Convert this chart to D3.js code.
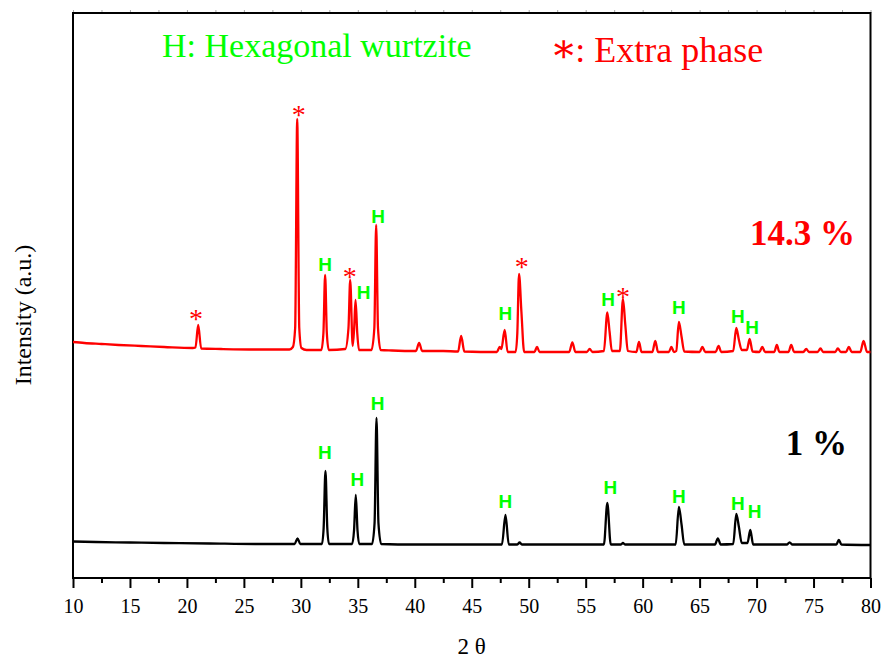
<!DOCTYPE html>
<html>
<head>
<meta charset="utf-8">
<script src="https://cdn.jsdelivr.net/npm/d3@7"></script>
<style>
  html, body { margin: 0; padding: 0; background: #fff; }
  svg { display: block; }
</style>
</head>
<body>
<svg id="chart" width="882" height="659"></svg>
<script>
// ---- Data (2θ in degrees, intensity in arbitrary units) ----
const sample14 = [
  [10.0,236],[11,235],[12.5,234],[14,233],[16,232],[18,231],[20.5,230],
  [20.75,230.5],[20.99,253],[21.25,229.5],
  [23,229],[26,228.5],[29.0,228.5],[29.3,231],[29.5,250],[29.68,459],[29.86,250],[30.05,230],[30.5,228],
  [31.8,228],[31.98,245],[32.13,303],[32.28,245],[32.45,228],
  [33.9,229],[34.18,250],[34.33,298],[34.55,232],[34.68,250],[34.8,278],[34.95,245],[35.1,228],
  [36.2,228],[36.45,250],[36.61,353],[36.77,250],[37.0,228],
  [38.0,227.5],[40.1,227],[40.38,235],[40.65,227],
  [42.5,227],[43.8,226.5],[44.07,242],[44.35,226.5],
  [47.2,226],[47.46,231],[47.6,229],[47.89,248],[48.15,226],
  [48.85,226],[49.0,245],[49.15,304],[49.36,266],[49.6,226],
  [50.5,226],[50.73,231],[50.95,226],
  [53.55,226],[53.83,235.5],[54.1,226],
  [55.1,226],[55.35,229],[55.6,226],
  [56.6,227],[56.9,265.5],[57.1,246],[57.3,227],
  [58.0,227],[58.27,279],[58.48,253],[58.7,227],
  [59.45,226],[59.68,236],[59.9,226],
  [60.85,226],[61.11,237],[61.35,226],
  [62.3,226],[62.52,231],[62.75,226],
  [62.95,227],[63.18,256],[63.42,241],[63.65,226.5],
  [65.0,226],[65.24,231],[65.5,226],
  [66.4,226],[66.67,232],[66.9,226],
  [67.95,227],[68.22,250],[68.45,238],[68.7,228],
  [69.15,228],[69.39,239],[69.65,226.5],
  [70.25,226],[70.5,231],[70.75,226],
  [71.55,226],[71.78,233],[72.0,226],
  [72.8,226],[73.04,233],[73.3,226],
  [74.1,226],[74.36,229],[74.6,226],
  [75.35,226],[75.61,229.5],[75.85,226],
  [76.9,226],[77.13,229.5],[77.4,226],
  [77.85,226],[78.1,231],[78.35,226],
  [79.1,226],[79.39,237],[79.7,226],[80,226]
];

const sample1 = [
  [10,36.5],[12,36],[15,35.5],[18,35],[22,34.5],[26,34],
  [29.45,34],[29.71,39.7],[29.95,34],
  [31.85,34],[32.0,50],[32.16,107],[32.32,50],[32.47,34],
  [34.5,34],[34.67,48],[34.82,83],[34.97,48],[35.12,34],
  [36.25,34],[36.47,55],[36.64,160],[36.81,55],[37.05,34],
  [40,33.5],[44,33.5],
  [47.65,33.5],[47.96,63],[48.25,33.5],
  [49.0,33.5],[49.2,35.5],[49.4,33.5],
  [56.6,33.5],[56.9,75],[57.2,33.5],
  [58.1,33.5],[58.27,35],[58.45,33.5],
  [62.9,33.5],[63.18,71],[63.42,53],[63.65,33.5],
  [66.35,33.5],[66.6,39.7],[66.85,33.5],
  [67.95,34],[68.22,64],[68.45,51],[68.7,35],
  [69.2,35],[69.45,48],[69.7,33.5],
  [72.65,33.5],[72.9,35.7],[73.15,33.5],
  [77.0,33.5],[77.22,38],[77.45,33.5],[80,33]
];

// Peak annotations: [2θ, intensity] of label centre
const hexLabels14 = [[32.13,314],[35.5,285.7],[36.78,362],[47.96,264.7],[56.96,279],[63.18,271.3],[68.36,262.3],[69.62,250.7]];
const extraLabels14 = [[20.79,263],[29.82,467.3],[34.3,305.3],[49.39,315.3],[58.27,284.7]];
const hexLabels1 = [[32.11,125.7],[34.97,98.7],[36.73,174.7],[47.96,77],[57.17,91.3],[63.18,82.3],[68.36,74.7],[69.82,67.3]];

const majorTicks = [10,15,20,25,30,35,40,45,50,55,60,65,70,75,80];
const minorTicks = [12.5,17.5,22.5,27.5,32.5,37.5,42.5,47.5,52.5,57.5,62.5,67.5,72.5,77.5];

const seriesNames = ["14.3 %", "1 %"];
const legendHex = "H: Hexagonal wurtzite";
const legendExtraMark = "\u2217";
const legendExtraText = ": Extra phase";

// ---- Layout ----
const svg = d3.select("#chart");
const L = 73, R = 870.5, T = 13, B = 578;
const x = d3.scaleLinear().domain([10, 80]).range([L, R]);
const y = d3.scaleLinear().domain([0, 565]).range([B, T]);
const serif = "'Liberation Serif', 'Times New Roman', serif";
const sans = "'Liberation Sans', Arial, sans-serif";
const GREEN = "#00ff00", RED = "#ff0000";

// bottom axis: major & minor ticks
const gMinor = svg.append("g").attr("transform", `translate(0,${B})`)
  .call(d3.axisBottom(x).tickValues(minorTicks).tickSize(5).tickFormat(""));
const gMajor = svg.append("g").attr("transform", `translate(0,${B})`)
  .call(d3.axisBottom(x).tickValues(majorTicks).tickSize(10).tickPadding(11).tickFormat(d3.format("d")));
[gMinor, gMajor].forEach(g => {
  g.select(".domain").remove();
  g.selectAll(".tick line").attr("stroke", "#000").attr("stroke-width", 2);
});
gMajor.selectAll(".tick text").attr("font-family", serif).attr("font-size", 20).attr("fill", "#000");

// faint top ticks
const gTop = svg.append("g").attr("transform", `translate(0,${T})`)
  .call(d3.axisTop(x).tickValues(majorTicks.concat(minorTicks)).tickSize(3).tickFormat(""));
gTop.select(".domain").remove();
gTop.selectAll(".tick line").attr("stroke", "#aaa").attr("stroke-width", 1);

// frame
svg.append("rect").attr("x", L).attr("y", T).attr("width", R - L).attr("height", B - T)
  .attr("fill", "none").attr("stroke", "#000").attr("stroke-width", 2);

// lines
const line = d3.line().x(d => x(d[0])).y(d => y(d[1])).curve(d3.curveMonotoneX);
svg.append("path").datum(sample1).attr("d", line)
  .attr("fill", "none").attr("stroke", "#000").attr("stroke-width", 2.3).attr("stroke-linejoin", "round");
svg.append("path").datum(sample14).attr("d", line)
  .attr("fill", "none").attr("stroke", RED).attr("stroke-width", 2.3).attr("stroke-linejoin", "round");

// peak labels
function hLabels(data) {
  svg.append("g").selectAll("text").data(data).join("text")
    .attr("x", d => x(d[0])).attr("y", d => y(d[1]) + 7)
    .attr("text-anchor", "middle").attr("font-family", sans).attr("font-weight", "bold")
    .attr("font-size", 19).attr("fill", GREEN).text("H");
}
hLabels(hexLabels14);
hLabels(hexLabels1);
svg.append("g").selectAll("text").data(extraLabels14).join("text")
  .attr("x", d => x(d[0])).attr("y", d => y(d[1]) + 13)
  .attr("text-anchor", "middle").attr("font-family", serif)
  .attr("font-size", 28).attr("fill", RED).text("*");

// series names
svg.append("text").attr("x", 855).attr("y", 245).attr("text-anchor", "end")
  .attr("font-family", serif).attr("font-weight", "bold").attr("font-size", 35).attr("fill", RED)
  .text(seriesNames[0]);
svg.append("text").attr("x", 847).attr("y", 455).attr("text-anchor", "end")
  .attr("font-family", serif).attr("font-weight", "bold").attr("font-size", 35).attr("fill", "#000")
  .text(seriesNames[1]);

// legend texts
svg.append("text").attr("x", 162).attr("y", 57).attr("font-family", serif).attr("font-size", 34)
  .attr("fill", GREEN).text(legendHex);
const ex = svg.append("text").attr("x", 550).attr("y", 62).attr("font-family", serif).attr("font-size", 36)
  .attr("fill", RED);
ex.append("tspan").attr("font-family", "'DejaVu Serif', serif").attr("font-size", 40).text(legendExtraMark);
ex.append("tspan").attr("dx", -2).text(legendExtraText);

// axis titles
svg.append("text").attr("x", (L + R) / 2).attr("y", 654).attr("text-anchor", "middle")
  .attr("font-family", serif).attr("font-size", 23).attr("fill", "#000").text("2 \u03b8");
svg.append("text").attr("transform", "translate(31,315) rotate(-90)").attr("text-anchor", "middle")
  .attr("font-family", serif).attr("font-size", 24).attr("fill", "#000").text("Intensity (a.u.)");
</script>
</body>
</html>
